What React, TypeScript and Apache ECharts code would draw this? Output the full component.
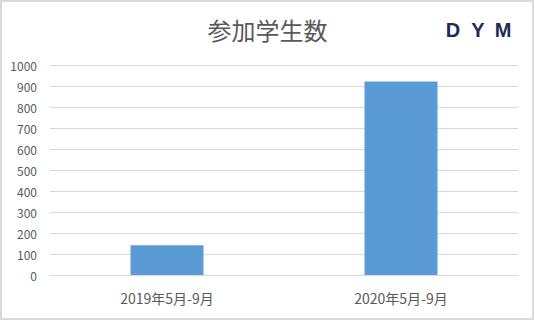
import React, { useEffect, useRef } from "react";
import * as echarts from "echarts";

const categories = ["2019年5月-9月", "2020年5月-9月"];
const students = [142, 922];
const yTicks = [0, 100, 200, 300, 400, 500, 600, 700, 800, 900, 1000];

const FONT = "'Noto Sans CJK JP', 'Noto Sans', sans-serif";

// Logo letters with their centre x positions
const logoLetters = ["D", "Y", "M"];
const logoX = [453, 478, 503];

export default function App() {
  const ref = useRef<HTMLDivElement>(null);

  useEffect(() => {
    document.body.style.margin = "0";
    if (!ref.current) return;
    const chart = echarts.init(ref.current, null, { renderer: "svg" });
    chart.setOption({
      animation: false,
      backgroundColor: "#ffffff",
      title: {
        text: "参加学生数",
        left: "center",
        top: 12,
        textStyle: { fontFamily: FONT, fontSize: 24, fontWeight: "normal", color: "#595959" },
      },
      graphic: [
        {
          type: "rect",
          shape: { x: 1, y: 1, width: 532, height: 318 },
          style: { fill: "none", stroke: "#d9d9d9", lineWidth: 2 },
          silent: true,
        },
        ...logoLetters.map((ch, i) => ({
          type: "text",
          x: logoX[i],
          y: 30,
          style: {
            text: ch,
            align: "center",
            verticalAlign: "middle",
            fontFamily: "'Liberation Sans', Arial, sans-serif",
            fontSize: 20,
            fontWeight: "bold",
            fill: "#1f2a56",
          },
        })),
      ],
      grid: { left: 50, right: 17, top: 65, bottom: 47 },
      xAxis: {
        type: "category",
        data: categories,
        axisLine: { show: true, lineStyle: { color: "#d9d9d9", width: 1 } },
        axisTick: { show: false },
        axisLabel: { fontFamily: FONT, fontSize: 14, color: "#595959", margin: 16 },
      },
      yAxis: {
        type: "value",
        min: yTicks[0],
        max: yTicks[yTicks.length - 1],
        interval: 100,
        axisLine: { show: false },
        axisTick: { show: false },
        splitLine: { lineStyle: { color: "#d9d9d9", width: 1 } },
        axisLabel: {
          fontFamily: FONT,
          fontSize: 12,
          color: "#595959",
          margin: 13,
          formatter: (v: number) => String(v),
        },
      },
      series: [
        {
          type: "bar",
          data: students,
          barWidth: 73,
          itemStyle: { color: "#5b9bd5" },
        },
      ],
    });
    return () => chart.dispose();
  }, []);

  return (
    <div
      ref={ref}
      style={{ position: "absolute", left: 0, top: 0, width: 535, height: 322 }}
    />
  );
}
